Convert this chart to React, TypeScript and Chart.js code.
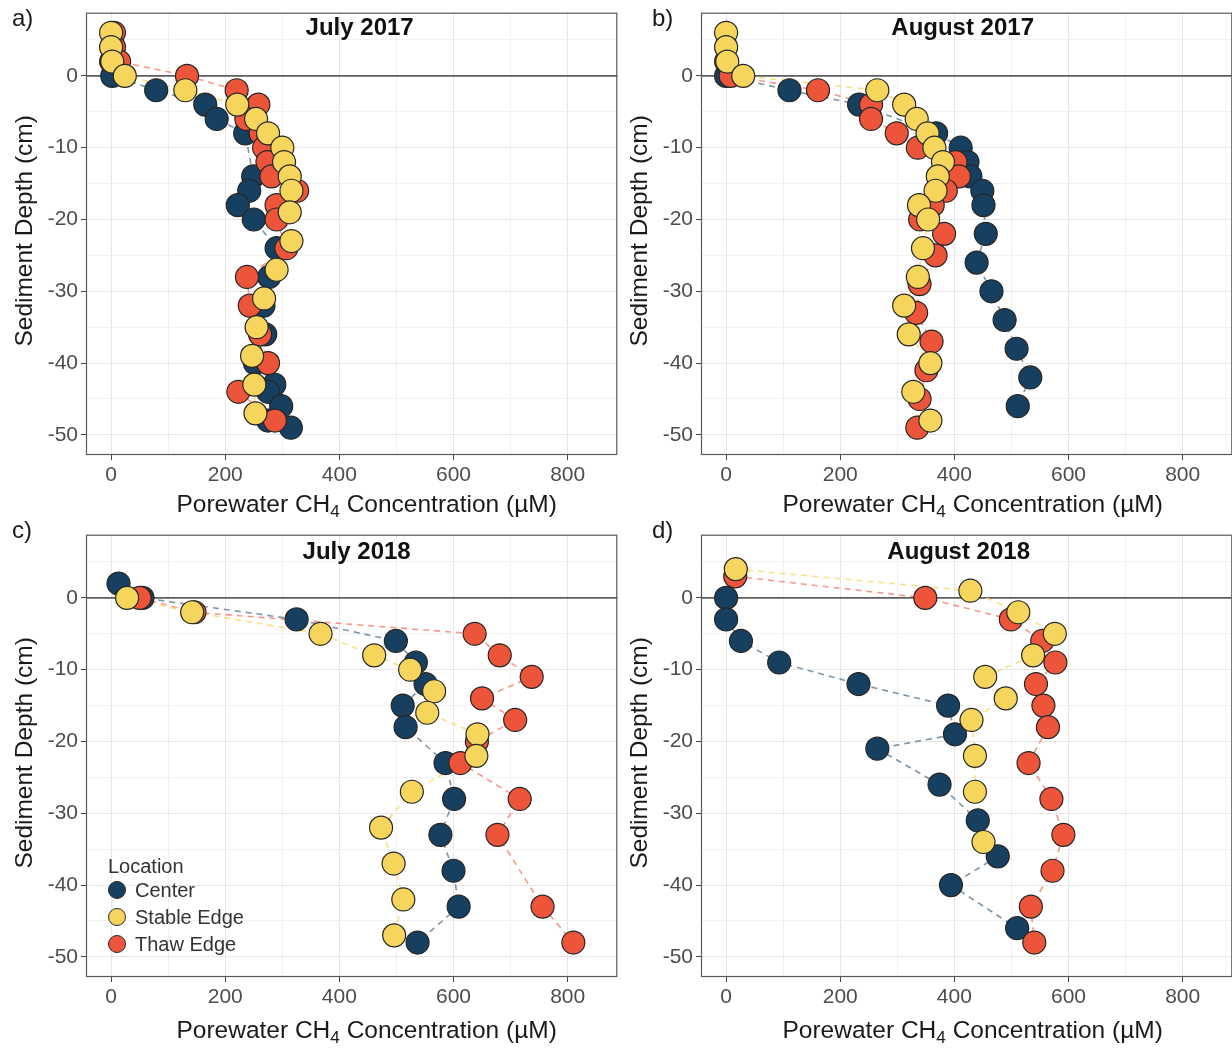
import React, { useEffect, useRef } from "react";
import { Chart, registerables } from "chart.js";

Chart.register(...registerables);

const FONT = "'Liberation Sans', Arial, Helvetica, sans-serif";

// ---- July 2017 ----
const jul17CenterDepth = [2, 0, -2, -4, -6, -8, -14, -16, -18, -20, -24, -28, -32, -36, -40, -43, -44, -46, -48, -49];
const jul17CenterCH4 = [0, 2, 79, 165, 185, 235, 249, 242, 222, 250, 290, 277, 267, 270, 252, 286, 275, 298, 275, 315];
const jul17StableDepth = [6, 4, 2, 0, -2, -4, -6, -8, -10, -12, -14, -16, -19, -23, -27, -31, -35, -39, -43, -47];
const jul17StableCH4 = [0, 0, 2, 24, 130, 221, 254, 275, 300, 303, 313, 316, 313, 316, 290, 268, 255, 247, 251, 253];
const jul17ThawDepth = [6, 4, 2, 0, -2, -4, -6, -8, -10, -12, -14, -16, -18, -20, -24, -28, -32, -36, -40, -44, -48];
const jul17ThawCH4 = [5, 5, 14, 133, 220, 258, 237, 262, 268, 274, 281, 326, 290, 290, 307, 238, 243, 261, 275, 223, 287];

// ---- August 2017 ----
const aug17CenterDepth = [0, -2, -4, -8, -10, -12, -14, -16, -18, -22, -26, -30, -34, -38, -42, -46];
const aug17CenterCH4 = [0, 111, 233, 368, 411, 423, 428, 449, 451, 455, 439, 465, 488, 509, 533, 511];
const aug17StableDepth = [6, 4, 2, 0, -2, -4, -6, -8, -10, -12, -14, -16, -18, -20, -24, -28, -32, -36, -40, -44, -48];
const aug17StableCH4 = [0, 0, 2, 30, 265, 312, 334, 353, 365, 380, 371, 367, 338, 354, 345, 336, 312, 320, 358, 328, 358];
const aug17ThawDepth = [2, 0, -2, -4, -6, -8, -10, -12, -14, -16, -18, -20, -22, -25, -29, -33, -37, -41, -45, -49];
const aug17ThawCH4 = [0, 8, 161, 254, 254, 299, 336, 402, 408, 385, 362, 340, 382, 367, 339, 333, 360, 351, 339, 335];

// ---- July 2018 ----
const jul18CenterDepth = [2, 0, -3, -6, -9, -12, -15, -18, -23, -28, -33, -38, -43, -48];
const jul18CenterCH4 = [13, 55, 325, 499, 534, 551, 511, 516, 586, 601, 577, 600, 609, 537];
const jul18StableDepth = [0, -2, -5, -8, -10, -13, -16, -19, -22, -27, -32, -37, -42, -47];
const jul18StableCH4 = [28, 142, 367, 461, 524, 566, 554, 642, 640, 527, 473, 495, 512, 496];
const jul18ThawDepth = [0, -2, -5, -8, -11, -14, -17, -20, -23, -28, -33, -43, -48];
const jul18ThawCH4 = [50, 146, 637, 681, 737, 650, 708, 641, 612, 716, 677, 756, 810];

// ---- August 2018 ----
const aug18CenterDepth = [0, -3, -6, -9, -12, -15, -19, -21, -26, -31, -36, -40, -46];
const aug18CenterCH4 = [0, 0, 26, 93, 232, 389, 401, 265, 374, 441, 476, 394, 510];
const aug18StableDepth = [4, 1, -2, -5, -8, -11, -14, -17, -22, -27, -34];
const aug18StableCH4 = [17, 428, 512, 576, 538, 454, 490, 430, 436, 436, 451];
const aug18ThawDepth = [3, 0, -3, -6, -9, -12, -15, -18, -23, -28, -33, -38, -43, -48];
const aug18ThawCH4 = [16, 349, 499, 554, 577, 543, 556, 564, 530, 570, 591, 572, 534, 540];

const locations = ["Center", "Stable Edge", "Thaw Edge"];
const fillColors = ["#173F5F", "#F6D55C", "#ED553B"];
const lineColors = ["rgba(23,63,95,0.55)", "rgba(246,213,92,0.75)", "rgba(237,85,59,0.6)"];

const xTicks = [0, 100, 200, 300, 400, 500, 600, 700, 800];
const yTicks = [-50, -45, -40, -35, -30, -25, -20, -15, -10, -5, 0, 5];

// x-axis title pieces: "Porewater CH" + subscript "4" + " Concentration (µM)"
const xTitleParts = ["Porewater CH", "4", " Concentration (\u00b5M)"];
const yTitle = "Sediment Depth (cm)";

type Pt = { x: number; y: number };
const zip = (conc: number[], depth: number[]): Pt[] => conc.map((c, i) => ({ x: c, y: depth[i] }));

const CANVAS_W = 630;
const TITLE_SIZE = 24.5;

const decorPlugin = {
  id: "panelDecor",
  beforeDatasetsDraw(chart: any) {
    const { ctx, chartArea: a, scales } = chart;
    const y0 = scales.y.getPixelForValue(0);
    ctx.save();
    ctx.strokeStyle = "#5e5e5e";
    ctx.lineWidth = 1.8;
    ctx.beginPath();
    ctx.moveTo(a.left, y0);
    ctx.lineTo(a.right, y0);
    ctx.stroke();
    ctx.restore();
  },
  afterDraw(chart: any, _args: any, opts: any) {
    const { ctx, chartArea: a } = chart;
    ctx.save();
    // panel frame
    ctx.strokeStyle = "#595959";
    ctx.lineWidth = 1.2;
    ctx.strokeRect(a.left + 0.5, a.top + 0.5, a.right - a.left - 1, a.bottom - a.top - 1);

    // panel heading
    ctx.fillStyle = "#111";
    ctx.font = `bold 24px ${FONT}`;
    ctx.textAlign = "center";
    ctx.textBaseline = "middle";
    ctx.fillText(opts.title, (a.left + a.right) / 2 + opts.titleDx, a.top + opts.titleDy);

    // x-axis title with subscript
    const mainFont = `${TITLE_SIZE}px ${FONT}`;
    const subFont = `${TITLE_SIZE * 0.7}px ${FONT}`;
    ctx.textAlign = "left";
    ctx.textBaseline = "alphabetic";
    ctx.font = mainFont;
    const w0 = ctx.measureText(xTitleParts[0]).width;
    const w2 = ctx.measureText(xTitleParts[2]).width;
    ctx.font = subFont;
    const w1 = ctx.measureText(xTitleParts[1]).width;
    const total = w0 + w1 + w2;
    const cx = (a.left + a.right) / 2 + opts.xTitleDx;
    const baseY = a.bottom + opts.xTitleDy;
    let tx = cx - total / 2;
    ctx.fillStyle = "#1a1a1a";
    ctx.font = mainFont;
    ctx.fillText(xTitleParts[0], tx, baseY);
    tx += w0;
    ctx.font = subFont;
    ctx.fillText(xTitleParts[1], tx, baseY + 5);
    tx += w1;
    ctx.font = mainFont;
    ctx.fillText(xTitleParts[2], tx, baseY);

    // y-axis title
    ctx.save();
    ctx.translate(25, (a.top + a.bottom) / 2 - 3);
    ctx.rotate(-Math.PI / 2);
    ctx.textAlign = "center";
    ctx.textBaseline = "middle";
    ctx.font = mainFont;
    ctx.fillText(yTitle, 0, 0);
    ctx.restore();

    // legend
    if (opts.legend) {
      ctx.textAlign = "left";
      ctx.textBaseline = "middle";
      ctx.font = `20px ${FONT}`;
      ctx.fillStyle = "#333";
      const lx = a.left + 22;
      ctx.fillText("Location", lx, a.bottom - 110);
      locations.forEach((name, i) => {
        const cy = a.bottom - 87 + i * 27;
        ctx.beginPath();
        ctx.arc(lx + 9, cy, 8.5, 0, Math.PI * 2);
        ctx.fillStyle = fillColors[i];
        ctx.fill();
        ctx.strokeStyle = "#2a2a2a";
        ctx.lineWidth = 1;
        ctx.stroke();
        ctx.fillStyle = "#333";
        ctx.fillText(name, lx + 27, cy + 1);
      });
    }
    ctx.restore();
  },
};

type PanelProps = {
  title: string;
  titleDx: number;
  titleDy: number;
  xTitleDx: number;
  xTitleDy: number;
  series: Pt[][];
  left: number;
  top: number;
  height: number;
  legend?: boolean;
};

function Panel({ title, titleDx, titleDy, xTitleDx, xTitleDy, series, left, top, height, legend }: PanelProps) {
  const ref = useRef<HTMLCanvasElement>(null);

  useEffect(() => {
    const lineSets = series.map((pts, i) => ({
      label: locations[i] + " path",
      data: pts,
      showLine: true,
      borderColor: lineColors[i],
      borderWidth: 1.6,
      borderDash: [6, 5],
      pointRadius: 0,
      fill: false,
      order: 10 + i,
    }));
    const pointOrder = [3, 1, 2];
    const pointSets = series.map((pts, i) => ({
      label: locations[i],
      data: pts,
      showLine: false,
      pointRadius: 11.5,
      pointBackgroundColor: fillColors[i],
      pointBorderColor: "#262626",
      pointBorderWidth: 1.2,
      order: pointOrder[i],
    }));

    const xAxisHeight = height - 455;

    const chart = new Chart(ref.current as HTMLCanvasElement, {
      type: "scatter",
      data: { datasets: [...lineSets, ...pointSets] as any },
      options: {
        animation: false,
        responsive: false,
        devicePixelRatio: 1,
        events: [],
        layout: { padding: { top: 12, right: 9, left: 0, bottom: 0 } },
        plugins: {
          legend: { display: false },
          tooltip: { enabled: false },
          panelDecor: { title, titleDx, titleDy, xTitleDx, xTitleDy, legend: !!legend },
        } as any,
        scales: {
          x: {
            type: "linear",
            min: -44,
            max: 887,
            afterBuildTicks: (s: any) => {
              s.ticks = xTicks.map((v) => ({ value: v }));
            },
            afterFit: (s: any) => {
              s.height = xAxisHeight;
              s.paddingLeft = 0;
              s.paddingRight = 0;
            },
            border: { display: false },
            grid: {
              color: (c: any) => (c.tick && c.tick.value % 200 === 0 ? "#e6e6e6" : "#f1f1f1"),
              lineWidth: 1,
              tickLength: 5,
              tickColor: (c: any) => (c.tick && c.tick.value % 200 === 0 ? "#444" : "rgba(0,0,0,0)"),
            },
            ticks: {
              autoSkip: false,
              maxRotation: 0,
              padding: 3,
              color: "#4d4d4d",
              font: { size: 21, family: FONT },
              callback: (v: any) => (Number(v) % 200 === 0 ? String(v) : ""),
            },
            title: { display: false },
          },
          y: {
            type: "linear",
            min: -52.8,
            max: 8.8,
            afterBuildTicks: (s: any) => {
              s.ticks = yTicks.map((v) => ({ value: v }));
            },
            afterFit: (s: any) => {
              s.width = 86;
              s.paddingTop = 0;
              s.paddingBottom = 0;
            },
            border: { display: false },
            grid: {
              color: (c: any) => (c.tick && c.tick.value % 10 === 0 ? "#e6e6e6" : "#f1f1f1"),
              lineWidth: 1,
              tickLength: 5,
              tickColor: (c: any) => (c.tick && c.tick.value % 10 === 0 ? "#444" : "rgba(0,0,0,0)"),
            },
            ticks: {
              autoSkip: false,
              padding: 3,
              color: "#4d4d4d",
              font: { size: 21, family: FONT },
              callback: (v: any) => (Number(v) % 10 === 0 ? String(v) : ""),
            },
            title: { display: false },
          },
        },
      },
      plugins: [decorPlugin],
    });
    return () => chart.destroy();
  }, []);

  return (
    <canvas
      ref={ref}
      width={CANVAS_W}
      height={height}
      style={{ position: "absolute", left, top, width: CANVAS_W, height }}
    />
  );
}

const letterStyle = (left: number, top: number): React.CSSProperties => ({
  position: "absolute",
  left,
  top,
  fontFamily: FONT,
  fontSize: 24,
  lineHeight: "28px",
  color: "#1a1a1a",
});

export default function App() {
  const jul17 = [
    zip(jul17CenterCH4, jul17CenterDepth),
    zip(jul17StableCH4, jul17StableDepth),
    zip(jul17ThawCH4, jul17ThawDepth),
  ];
  const aug17 = [
    zip(aug17CenterCH4, aug17CenterDepth),
    zip(aug17StableCH4, aug17StableDepth),
    zip(aug17ThawCH4, aug17ThawDepth),
  ];
  const jul18 = [
    zip(jul18CenterCH4, jul18CenterDepth),
    zip(jul18StableCH4, jul18StableDepth),
    zip(jul18ThawCH4, jul18ThawDepth),
  ];
  const aug18 = [
    zip(aug18CenterCH4, aug18CenterDepth),
    zip(aug18StableCH4, aug18StableDepth),
    zip(aug18ThawCH4, aug18ThawDepth),
  ];

  return (
    <div
      style={{
        position: "absolute",
        left: 0,
        top: 0,
        width: 1232,
        height: 1048,
        overflow: "hidden",
        background: "#fff",
      }}
    >
      <Panel title="July 2017" titleDx={8} titleDy={16} xTitleDx={15} xTitleDy={57}
        series={jul17} left={0} top={0} height={521} />
      <Panel title="August 2017" titleDx={-4} titleDy={16} xTitleDx={6} xTitleDy={57}
        series={aug17} left={615} top={0} height={521} />
      <Panel title="July 2018" titleDx={5} titleDy={18} xTitleDx={15} xTitleDy={61}
        series={jul18} left={0} top={522} height={526} legend />
      <Panel title="August 2018" titleDx={-8} titleDy={18} xTitleDx={6} xTitleDy={61}
        series={aug18} left={615} top={522} height={526} />
      <div style={letterStyle(12, 4)}>a)</div>
      <div style={letterStyle(652, 4)}>b)</div>
      <div style={letterStyle(12, 516)}>c)</div>
      <div style={letterStyle(652, 516)}>d)</div>
    </div>
  );
}
